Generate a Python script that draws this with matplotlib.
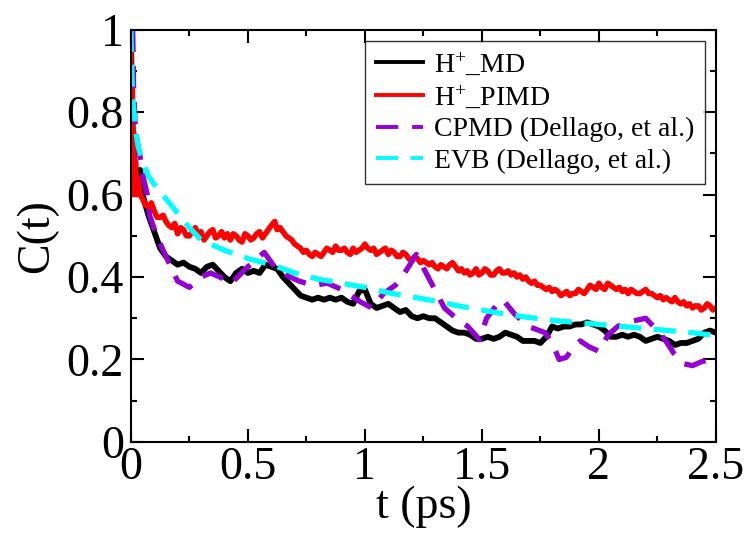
import numpy as np
import matplotlib
matplotlib.use('Agg')
import matplotlib.pyplot as plt
from matplotlib.ticker import MultipleLocator

# H+_MD (black)
t_md = [0.0, 0.005, 0.01, 0.02, 0.03, 0.04, 0.05, 0.075, 0.1, 0.125, 0.15, 0.175,
        0.2, 0.225, 0.25, 0.275, 0.3, 0.325, 0.35, 0.375, 0.4, 0.425, 0.45, 0.475,
        0.5, 0.525, 0.55, 0.575, 0.6, 0.625, 0.65, 0.675, 0.7, 0.725, 0.75, 0.775,
        0.8, 0.825, 0.85, 0.875, 0.9, 0.925, 0.95, 0.975, 1.0, 1.025, 1.05, 1.075,
        1.1, 1.125, 1.15, 1.175, 1.2, 1.225, 1.25, 1.275, 1.3, 1.325, 1.35, 1.375,
        1.4, 1.425, 1.45, 1.475, 1.5, 1.525, 1.55, 1.575, 1.6, 1.625, 1.65, 1.675,
        1.7, 1.725, 1.75, 1.775, 1.8, 1.825, 1.85, 1.875, 1.9, 1.925, 1.95, 1.975,
        2.0, 2.025, 2.05, 2.075, 2.1, 2.125, 2.15, 2.175, 2.2, 2.225, 2.25, 2.275,
        2.3, 2.325, 2.35, 2.375, 2.4, 2.425, 2.45, 2.475, 2.5]
c_md = [1.0, 0.82, 0.72, 0.66, 0.64, 0.66, 0.60, 0.55, 0.51, 0.47, 0.45, 0.44,
        0.43, 0.435, 0.425, 0.42, 0.41, 0.425, 0.43, 0.415, 0.40, 0.39, 0.41, 0.42,
        0.41, 0.415, 0.41, 0.43, 0.425, 0.42, 0.40, 0.385, 0.37, 0.355, 0.35, 0.345,
        0.35, 0.345, 0.35, 0.345, 0.35, 0.34, 0.335, 0.365, 0.37, 0.335, 0.325, 0.33,
        0.335, 0.325, 0.315, 0.32, 0.305, 0.30, 0.305, 0.30, 0.30, 0.29, 0.28, 0.27,
        0.265, 0.265, 0.26, 0.25, 0.25, 0.255, 0.25, 0.255, 0.265, 0.26, 0.255, 0.245,
        0.245, 0.245, 0.24, 0.255, 0.28, 0.275, 0.28, 0.28, 0.285, 0.285, 0.29, 0.285,
        0.28, 0.27, 0.255, 0.255, 0.26, 0.255, 0.26, 0.255, 0.245, 0.25, 0.255, 0.25,
        0.245, 0.235, 0.24, 0.24, 0.245, 0.25, 0.265, 0.27, 0.265]

# H+_PIMD (red)
t_pimd = [0.0, 0.003, 0.006, 0.009, 0.012, 0.015, 0.02, 0.025, 0.03, 0.04, 0.05,
          0.0625, 0.075, 0.0875, 0.1, 0.1125, 0.125, 0.1375, 0.15, 0.1625, 0.175, 0.1875,
          0.2, 0.2125, 0.225, 0.2375, 0.25, 0.2625, 0.275, 0.2875, 0.3, 0.3125, 0.325, 0.3375,
          0.35, 0.3625, 0.375, 0.3875, 0.4, 0.4125, 0.425, 0.4375, 0.45, 0.4625, 0.475, 0.4875,
          0.5, 0.5125, 0.525, 0.5375, 0.55, 0.5625, 0.575, 0.5875, 0.6, 0.615, 0.625, 0.6375,
          0.65, 0.6625, 0.675, 0.6875, 0.7, 0.7125, 0.725, 0.7375, 0.75, 0.7625, 0.775, 0.7875,
          0.8, 0.8125, 0.825, 0.8375, 0.85, 0.8625, 0.875, 0.8875, 0.9, 0.9125, 0.925, 0.9375,
          0.95, 0.9625, 0.975, 0.9875, 1.0, 1.0125, 1.025, 1.0375, 1.05, 1.0625, 1.075, 1.0875,
          1.1, 1.1125, 1.125, 1.1375, 1.15, 1.1625, 1.175, 1.1875, 1.2, 1.2125, 1.225, 1.2375,
          1.25, 1.2625, 1.275, 1.2875, 1.3, 1.3125, 1.325, 1.3375, 1.35, 1.3625, 1.375, 1.3875,
          1.4, 1.4125, 1.425, 1.4375, 1.45, 1.4625, 1.475, 1.4875, 1.5, 1.5125, 1.525, 1.5375,
          1.55, 1.5625, 1.575, 1.5875, 1.6, 1.6125, 1.625, 1.6375, 1.65, 1.6625, 1.675, 1.6875,
          1.7, 1.7125, 1.725, 1.7375, 1.75, 1.7625, 1.775, 1.7875, 1.8, 1.8125, 1.825, 1.8375,
          1.85, 1.8625, 1.875, 1.8875, 1.9, 1.9125, 1.925, 1.9375, 1.95, 1.9625, 1.975, 1.9875,
          2.0, 2.0125, 2.025, 2.0375, 2.05, 2.0625, 2.075, 2.0875, 2.1, 2.1125, 2.125, 2.1375,
          2.15, 2.1625, 2.175, 2.1875, 2.2, 2.2125, 2.225, 2.2375, 2.25, 2.2625, 2.275, 2.2875,
          2.3, 2.3125, 2.325, 2.3375, 2.35, 2.3625, 2.375, 2.3875, 2.4, 2.4125, 2.425, 2.4375,
          2.45, 2.4625, 2.475, 2.4875, 2.5]
c_pimd = [1.0, 0.62, 0.90, 0.60, 0.75, 0.61, 0.68, 0.60, 0.64, 0.60, 0.59,
          0.575, 0.57, 0.58, 0.56, 0.545, 0.545, 0.55, 0.535, 0.525, 0.52, 0.53,
          0.505, 0.52, 0.515, 0.50, 0.50, 0.51, 0.52, 0.505, 0.51, 0.49, 0.50, 0.51,
          0.515, 0.495, 0.50, 0.51, 0.495, 0.505, 0.49, 0.505, 0.50, 0.49, 0.485, 0.505,
          0.50, 0.49, 0.495, 0.505, 0.51, 0.495, 0.505, 0.515, 0.525, 0.535, 0.515, 0.52,
          0.51, 0.50, 0.495, 0.49, 0.48, 0.475, 0.47, 0.46, 0.465, 0.455, 0.45, 0.46,
          0.455, 0.45, 0.46, 0.47, 0.465, 0.46, 0.475, 0.465, 0.465, 0.47, 0.46, 0.455,
          0.47, 0.46, 0.465, 0.47, 0.48, 0.47, 0.465, 0.47, 0.455, 0.46, 0.465, 0.47,
          0.455, 0.465, 0.46, 0.45, 0.45, 0.46, 0.455, 0.445, 0.44, 0.45, 0.445, 0.435,
          0.44, 0.435, 0.43, 0.435, 0.425, 0.42, 0.43, 0.425, 0.42, 0.43, 0.435, 0.425,
          0.415, 0.42, 0.41, 0.415, 0.405, 0.41, 0.42, 0.405, 0.41, 0.42, 0.415, 0.405,
          0.405, 0.415, 0.42, 0.41, 0.41, 0.415, 0.405, 0.41, 0.40, 0.405, 0.395, 0.40,
          0.39, 0.385, 0.39, 0.38, 0.38, 0.375, 0.37, 0.375, 0.365, 0.37, 0.365, 0.355,
          0.36, 0.365, 0.355, 0.36, 0.36, 0.37, 0.365, 0.36, 0.37, 0.38, 0.375, 0.37,
          0.385, 0.375, 0.37, 0.385, 0.38, 0.375, 0.37, 0.375, 0.365, 0.37, 0.36, 0.37,
          0.365, 0.36, 0.36, 0.365, 0.37, 0.36, 0.36, 0.355, 0.35, 0.355, 0.345, 0.35,
          0.345, 0.34, 0.35, 0.34, 0.335, 0.34, 0.33, 0.335, 0.325, 0.33, 0.33, 0.32,
          0.325, 0.335, 0.33, 0.32, 0.325]

# CPMD (Dellago, et al.) (purple dashed)
t_cpmd = [0.008, 0.012, 0.02, 0.04, 0.05, 0.07, 0.08, 0.11, 0.15, 0.2, 0.25, 0.3,
          0.34, 0.38, 0.43, 0.49, 0.53, 0.57, 0.62, 0.68, 0.72, 0.78, 0.84, 0.9,
          0.98, 1.03, 1.08, 1.13, 1.17, 1.22, 1.28, 1.34, 1.39, 1.44, 1.49, 1.52,
          1.56, 1.59, 1.64, 1.70, 1.77, 1.80, 1.83, 1.86, 1.88, 1.92, 1.96, 2.0,
          2.04, 2.08, 2.12, 2.2, 2.25, 2.28, 2.32, 2.36, 2.4, 2.44, 2.48, 2.5]
c_cpmd = [1.0, 0.85, 0.75, 0.69, 0.65, 0.60, 0.55, 0.50, 0.45, 0.39, 0.375, 0.40,
          0.41, 0.40, 0.385, 0.42, 0.44, 0.46, 0.42, 0.40, 0.39, 0.38, 0.385, 0.37,
          0.34, 0.325, 0.36, 0.38, 0.41, 0.455, 0.39, 0.325, 0.30, 0.28, 0.248, 0.30,
          0.33, 0.345, 0.31, 0.28, 0.265, 0.24, 0.20, 0.205, 0.22, 0.245, 0.23, 0.22,
          0.26, 0.28, 0.29, 0.30, 0.27, 0.25, 0.215, 0.19, 0.185, 0.195, 0.20, 0.195]

# EVB (Dellago, et al.) (cyan dashed)
t_evb = [0.0, 0.005, 0.01, 0.02, 0.03, 0.05, 0.075, 0.1, 0.15, 0.2, 0.25, 0.3,
         0.4, 0.5, 0.6, 0.7, 0.8, 0.9, 1.0, 1.1, 1.2, 1.3, 1.4, 1.5, 1.6, 1.7,
         1.8, 1.9, 2.0, 2.1, 2.2, 2.3, 2.4, 2.5]
c_evb = [1.0, 0.88, 0.82, 0.76, 0.72, 0.68, 0.645, 0.625, 0.59, 0.555, 0.52, 0.49,
         0.465, 0.445, 0.43, 0.41, 0.395, 0.385, 0.375, 0.362, 0.352, 0.342, 0.33,
         0.32, 0.31, 0.302, 0.295, 0.29, 0.285, 0.28, 0.275, 0.27, 0.265, 0.258]

labels = [r'H$^{+}$_MD', r'H$^{+}$_PIMD', 'CPMD (Dellago, et al.)', 'EVB (Dellago, et al.)']

plt.rcParams['font.family'] = ['Liberation Serif', 'DejaVu Serif']
plt.rcParams['mathtext.fontset'] = 'custom'
plt.rcParams['mathtext.rm'] = 'Liberation Serif'
plt.rcParams['mathtext.it'] = 'Liberation Serif:italic'
plt.rcParams['lines.scale_dashes'] = False

fig = plt.figure(figsize=(7.52, 5.33), dpi=100)
ax = fig.add_axes([0.174, 0.171, 0.778, 0.773])

ax.plot(t_md, c_md, color='black', lw=4.2, label=labels[0])
ax.plot(t_pimd, c_pimd, color='#ff0000', lw=4.0, label=labels[1])
ax.plot(t_cpmd, c_cpmd, color='#9400d3', lw=3.8, dashes=(16, 10), label=labels[2])
ax.plot(t_evb, c_evb, color='#00ffff', lw=3.8, dashes=(16, 9), label=labels[3])

ax.set_xlim(0, 2.5)
ax.set_ylim(0, 1)
ax.xaxis.set_minor_locator(MultipleLocator(0.25))
ax.yaxis.set_minor_locator(MultipleLocator(0.1))
ax.set_xticks([0, 0.5, 1, 1.5, 2, 2.5])
ax.set_xticklabels(['0', '0.5', '1', '1.5', '2', '2.5'])
ax.set_yticks([0, 0.2, 0.4, 0.6, 0.8, 1.0])
ax.set_yticklabels(['0', '0.2', '0.4', '0.6', '0.8', '1'])
ax.tick_params(which='both', direction='in', top=True, right=True, width=1.5,
               labelsize=33)
ax.tick_params(which='major', length=9.5)
ax.tick_params(which='minor', length=4)
ax.tick_params(axis='x', pad=3)
ax.tick_params(axis='y', pad=5)
for s in ax.spines.values():
    s.set_linewidth(1.5)

ax.set_xlabel('t (ps)', fontsize=33, labelpad=-2)
ax.set_ylabel('C(t)', fontsize=33, labelpad=6)

leg = ax.legend(loc='upper right', fontsize=20, frameon=True, fancybox=False,
                edgecolor='black', handlelength=1.7, handletextpad=0.4,
                labelspacing=0.22, borderaxespad=0.4, borderpad=0.38)
leg.get_frame().set_linewidth(1.0)
for ln in leg.get_lines():
    ln.set_linewidth(2.8)

fig.savefig('out.png', dpi=100)
